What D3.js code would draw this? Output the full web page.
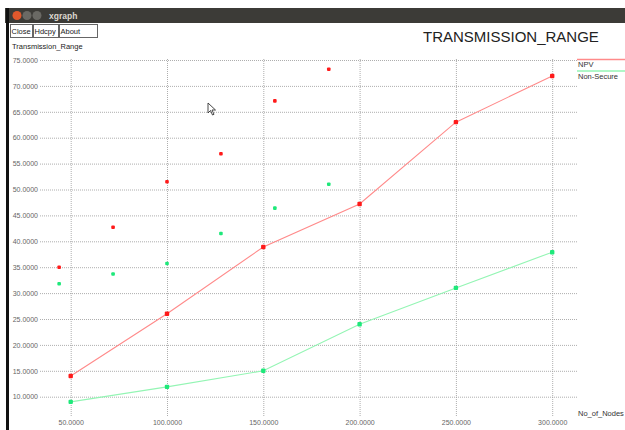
<!DOCTYPE html>
<html>
<head>
<meta charset="utf-8">
<script src="https://cdn.jsdelivr.net/npm/d3@7"></script>
<style>
  body { margin: 0; background: #fff; }
  svg { display: block; font-family: "Liberation Sans", Arial, sans-serif; }
</style>
</head>
<body>
<div id="chart"></div>
<script>
/* DATA */
const nodes = [50, 100, 150, 200, 250, 300];
const npv = [14.0, 26.0, 38.9, 47.2, 63.0, 71.9];
const nonSecure = [9.0, 11.9, 15.0, 24.0, 31.0, 37.9];
// loose points with no connecting line
const looseX = [44, 72, 100, 128, 156, 184];
const looseRed = [35.0, 42.7, 51.5, 56.9, 67.1, 73.2];
const looseGreen = [31.8, 33.7, 35.7, 41.5, 46.4, 51.0];
const xTicks = [50, 100, 150, 200, 250, 300];
const yTicks = [10, 15, 20, 25, 30, 35, 40, 45, 50, 55, 60, 65, 70, 75];
const seriesNames = ["NPV", "Non-Secure"];

const width = 625,
  height = 430;

const svg = d3.select("#chart").append("svg")
  .attr("width", width)
  .attr("height", height);

// + WINDOW FRAME
svg.append("rect").attr("x", 5).attr("y", 8).attr("width", 620).attr("height", 15).attr("fill", "#3c3b37");
svg.append("rect").attr("x", 6).attr("y", 8).attr("width", 3).attr("height", 422).attr("fill", "#111");
svg.append("circle").attr("cx", 17).attr("cy", 15.5).attr("r", 4.5).attr("fill", "#e0582c");
svg.append("circle").attr("cx", 27).attr("cy", 15.5).attr("r", 4.5).attr("fill", "#6a6964");
svg.append("circle").attr("cx", 37).attr("cy", 15.5).attr("r", 4.5).attr("fill", "#6a6964");
svg.append("text").attr("x", 49).attr("y", 19).attr("fill", "#dcd8cf")
  .attr("font-size", 8.5).attr("font-weight", "bold").text("xgraph");

// buttons
const buttons = [{ t: "Close", x: 10, w: 22 }, { t: "Hdcpy", x: 33, w: 25 }, { t: "About", x: 59, w: 38 }];
const btn = svg.selectAll(".btn").data(buttons).join("g").attr("class", "btn");
btn.append("rect")
  .attr("x", d => d.x + 0.5).attr("y", 24.5).attr("width", d => d.w).attr("height", 13)
  .attr("fill", "#fff").attr("stroke", "#666");
btn.append("text")
  .attr("x", d => d.x + 1.5).attr("y", 34).attr("font-size", 7.5).attr("fill", "#222")
  .text(d => d.t);

// + SCALES
const xScale = d3.scaleLinear().domain([50, 300]).range([70.7, 552.2]);
const yScale = d3.scaleLinear().domain([10, 75]).range([396.7, 60]);

// + TITLES
svg.append("text").attr("x", 423).attr("y", 41.7).attr("font-size", 15).attr("fill", "#222")
  .text("TRANSMISSION_RANGE");
svg.append("text").attr("x", 12).attr("y", 49).attr("font-size", 7.5).attr("fill", "#222")
  .text("Transmission_Range");
svg.append("text").attr("x", 578).attr("y", 416).attr("font-size", 7.5).attr("fill", "#333")
  .text("No_of_Nodes");

// + GRID (dotted)
const fmt = d3.format(".4f");
const yAxis = d3.axisLeft(yScale).tickValues(yTicks).tickFormat(fmt)
  .tickSize(-(577 - 40)).tickPadding(2);
svg.append("g").attr("class", "y-grid").attr("transform", "translate(40,0)").call(yAxis)
  .call(g => g.select(".domain").remove());

const xAxis = d3.axisBottom(xScale).tickValues(xTicks).tickFormat(fmt)
  .tickSize(-(416 - 58)).tickPadding(4);
svg.append("g").attr("class", "x-grid").attr("transform", "translate(0,416)").call(xAxis)
  .call(g => g.select(".domain").remove());

svg.selectAll(".tick line")
  .attr("stroke", "#999").attr("stroke-width", 0.8).attr("stroke-dasharray", "1,1");
svg.selectAll(".tick text")
  .attr("font-size", 7).attr("fill", "#666")
  .attr("font-family", "'Liberation Sans', Arial, sans-serif");

// + LINES
const rows = nodes.map((n, i) => ({ n, npv: npv[i], ns: nonSecure[i] }));
const series = [
  { key: "npv", line: "#ff8a8a", dot: "#ff1a1a" },
  { key: "ns", line: "#94f5b4", dot: "#1ee87a" }
];

series.forEach(s => {
  svg.append("path")
    .datum(rows)
    .attr("fill", "none")
    .attr("stroke", s.line)
    .attr("stroke-width", 1.1)
    .attr("d", d3.line().x(d => xScale(d.n)).y(d => yScale(d[s.key])));
  svg.selectAll(".dot-" + s.key)
    .data(rows)
    .join("rect")
    .attr("class", "dot-" + s.key)
    .attr("x", d => xScale(d.n) - 2.2)
    .attr("y", d => yScale(d[s.key]) - 2.2)
    .attr("width", 4.4).attr("height", 4.4)
    .attr("rx", 1)
    .attr("fill", s.dot);
});

// loose points
const loose = looseX.map((x, i) => ({ x, r: looseRed[i], g: looseGreen[i] }));
svg.selectAll(".loose-r").data(loose).join("rect").attr("class", "loose-r")
  .attr("x", d => xScale(d.x) - 1.8).attr("y", d => yScale(d.r) - 1.8)
  .attr("width", 3.6).attr("height", 3.6).attr("rx", 1).attr("fill", "#ff1a1a");
svg.selectAll(".loose-g").data(loose).join("rect").attr("class", "loose-g")
  .attr("x", d => xScale(d.x) - 1.8).attr("y", d => yScale(d.g) - 1.8)
  .attr("width", 3.6).attr("height", 3.6).attr("rx", 1).attr("fill", "#1ee87a");

// + LEGEND
const legend = svg.selectAll(".legend").data(seriesNames).join("g").attr("class", "legend")
  .attr("transform", (d, i) => `translate(577,${59.5 + i * 11.5})`);
legend.append("line").attr("x1", 0).attr("x2", 48)
  .attr("stroke", (d, i) => series[i].line).attr("stroke-width", 1.5);
legend.append("text").attr("x", 1).attr("y", 7.5).attr("font-size", 7.5).attr("fill", "#333")
  .text(d => d);

// mouse pointer
svg.append("path")
  .attr("d", "M208,103 L208,113 L210.5,110.5 L212.5,115 L214,114.3 L212,110 L215.5,110 Z")
  .attr("fill", "#fff").attr("stroke", "#333").attr("stroke-width", 0.9);
</script>
</body>
</html>
